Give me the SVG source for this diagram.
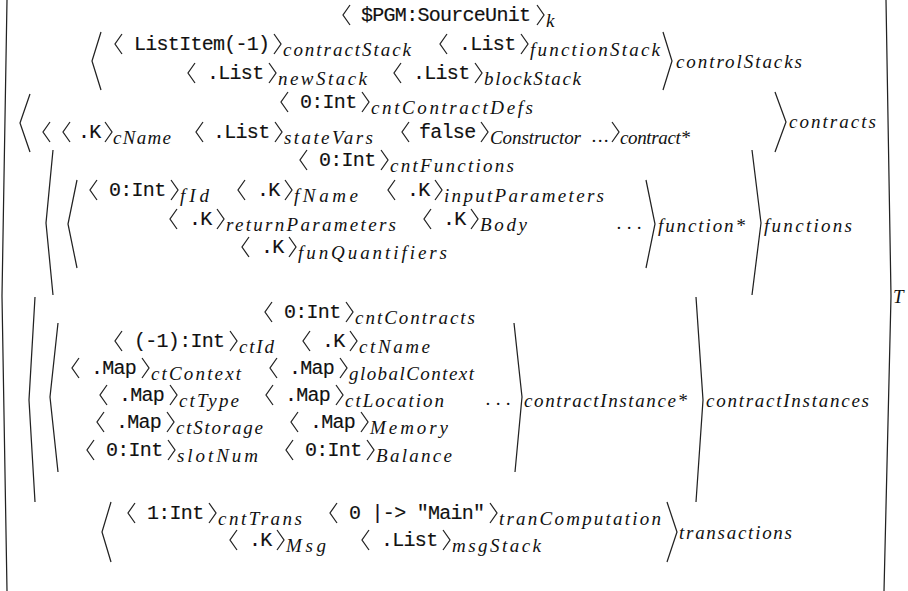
<svg xmlns="http://www.w3.org/2000/svg" xmlns:xlink="http://www.w3.org/1999/xlink" width="908" height="591" viewBox="0 0 908 591">
<style>
.m{font-family:"Liberation Mono","DejaVu Sans Mono",monospace;font-size:20px;letter-spacing:-0.72px;fill:#111;stroke:#111;stroke-width:0.15}
.s{font-family:"Liberation Serif","DejaVu Serif",serif;font-style:italic;font-size:19px;fill:#111}
.b{fill:none;stroke:#222;stroke-width:1.25;stroke-linejoin:miter}
</style>
<defs>
<path id="la" class="b" d="M7 -16 L0 -6 L7 4"/>
<path id="ra" class="b" d="M0 -16 L7 -6 L0 4"/>
</defs>
<rect width="908" height="591" fill="#fff"/>

<g id="T">
<path class="b" d="M7 0 L2 296 L7 591"/>
<path class="b" d="M886 0 L891 296 L884 591"/>
<text class="s" x="893" y="303">T</text>
</g>

<g id="k">
<use href="#la" x="343" y="21"/><text class="m" x="361" y="21">$PGM:SourceUnit</text><use href="#ra" x="537" y="21"/><text class="s" x="546" y="27">k</text>
</g>

<g id="controlStacks">
<path class="b" d="M101 32 L92 61 L101 90"/>
<g id="contractStack"><use href="#la" x="115" y="50"/><text class="m" x="134" y="50">ListItem(-1)</text><use href="#ra" x="274" y="50"/><text class="s" x="283" y="56" textLength="128" lengthAdjust="spacing">contractStack</text></g>
<g id="functionStack"><use href="#la" x="440" y="50"/><text class="m" x="459" y="50">.List</text><use href="#ra" x="521" y="50"/><text class="s" x="530" y="56" textLength="130" lengthAdjust="spacing">functionStack</text></g>
<g id="newStack"><use href="#la" x="188" y="79"/><text class="m" x="207" y="79">.List</text><use href="#ra" x="269" y="79"/><text class="s" x="278" y="85" textLength="89" lengthAdjust="spacing">newStack</text></g>
<g id="blockStack"><use href="#la" x="394" y="79"/><text class="m" x="413" y="79">.List</text><use href="#ra" x="475" y="79"/><text class="s" x="484" y="85" textLength="97" lengthAdjust="spacing">blockStack</text></g>
<path class="b" d="M663 32 L672 61 L663 90"/>
<text class="s" x="676" y="68" textLength="126" lengthAdjust="spacing">controlStacks</text>
</g>

<g id="contracts">
<path class="b" d="M30 94 L20 123 L30 152"/>
<g id="cntContractDefs"><use href="#la" x="281" y="108"/><text class="m" x="300" y="108">0:Int</text><use href="#ra" x="362" y="108"/><text class="s" x="371" y="114" textLength="162" lengthAdjust="spacing">cntContractDefs</text></g>
<g id="contract">
<use href="#la" x="43" y="138"/>
<g id="cName"><use href="#la" x="63" y="138"/><text class="m" x="78" y="138">.K</text><use href="#ra" x="105" y="138"/><text class="s" x="113" y="144" textLength="58" lengthAdjust="spacing">cName</text></g>
<g id="stateVars"><use href="#la" x="196" y="138"/><text class="m" x="213" y="138">.List</text><use href="#ra" x="275" y="138"/><text class="s" x="284" y="144" textLength="89" lengthAdjust="spacing">stateVars</text></g>
<g id="Constructor"><use href="#la" x="402" y="138"/><text class="m" x="419" y="138">false</text><use href="#ra" x="481" y="138"/><text class="s" x="490" y="144" textLength="91" lengthAdjust="spacing">Constructor</text></g>
<text class="s" x="592" y="142" textLength="17" lengthAdjust="spacing">...</text>
<use href="#ra" x="612" y="138"/><text class="s" x="620" y="144" textLength="70" lengthAdjust="spacing">contract*</text>
</g>
<path class="b" d="M775 92 L786 122 L775 152"/>
<text class="s" x="789" y="128" textLength="87" lengthAdjust="spacing">contracts</text>
</g>

<g id="functions">
<path class="b" d="M53 150 L46 223 L53 295"/>
<g id="cntFunctions"><use href="#la" x="300" y="166"/><text class="m" x="319" y="166">0:Int</text><use href="#ra" x="381" y="166"/><text class="s" x="390" y="172" textLength="124" lengthAdjust="spacing">cntFunctions</text></g>
<g id="function">
<path class="b" d="M77 180 L68 224 L77 268"/>
<g id="fId"><use href="#la" x="90" y="196"/><text class="m" x="109" y="196">0:Int</text><use href="#ra" x="171" y="196"/><text class="s" x="180" y="202" textLength="29" lengthAdjust="spacing">fId</text></g>
<g id="fName"><use href="#la" x="238" y="196"/><text class="m" x="257" y="196">.K</text><use href="#ra" x="285" y="196"/><text class="s" x="294" y="202" textLength="64" lengthAdjust="spacing">fName</text></g>
<g id="inputParameters"><use href="#la" x="388" y="196"/><text class="m" x="407" y="196">.K</text><use href="#ra" x="435" y="196"/><text class="s" x="444" y="202" textLength="160" lengthAdjust="spacing">inputParameters</text></g>
<g id="returnParameters"><use href="#la" x="170" y="225"/><text class="m" x="189" y="225">.K</text><use href="#ra" x="217" y="225"/><text class="s" x="226" y="231" textLength="170" lengthAdjust="spacing">returnParameters</text></g>
<g id="Body"><use href="#la" x="424" y="225"/><text class="m" x="443" y="225">.K</text><use href="#ra" x="471" y="225"/><text class="s" x="480" y="231" textLength="47" lengthAdjust="spacing">Body</text></g>
<g id="funQuantifiers"><use href="#la" x="242" y="253"/><text class="m" x="261" y="253">.K</text><use href="#ra" x="289" y="253"/><text class="s" x="298" y="259" textLength="149" lengthAdjust="spacing">funQuantifiers</text></g>
<text class="s" x="617" y="229" textLength="25" lengthAdjust="spacing">...</text>
<path class="b" d="M646 180 L655 224 L646 268"/>
<text class="s" x="658" y="232" textLength="87" lengthAdjust="spacing">function*</text>
</g>
<path class="b" d="M752 150 L761 223 L752 295"/>
<text class="s" x="764" y="232" textLength="88" lengthAdjust="spacing">functions</text>
</g>

<g id="contractInstances">
<path class="b" d="M35 297 L29 400 L35 502"/>
<g id="cntContracts"><use href="#la" x="265" y="318"/><text class="m" x="284" y="318">0:Int</text><use href="#ra" x="346" y="318"/><text class="s" x="355" y="324" textLength="120" lengthAdjust="spacing">cntContracts</text></g>
<g id="contractInstance">
<path class="b" d="M58 323 L50 397 L58 472"/>
<g id="ctId"><use href="#la" x="115" y="347"/><text class="m" x="134" y="347">(-1):Int</text><use href="#ra" x="230" y="347"/><text class="s" x="239" y="353" textLength="35" lengthAdjust="spacing">ctId</text></g>
<g id="ctName"><use href="#la" x="303" y="347"/><text class="m" x="322" y="347">.K</text><use href="#ra" x="350" y="347"/><text class="s" x="359" y="353" textLength="71" lengthAdjust="spacing">ctName</text></g>
<g id="ctContext"><use href="#la" x="72" y="374"/><text class="m" x="91" y="374">.Map</text><use href="#ra" x="142" y="374"/><text class="s" x="151" y="380" textLength="90" lengthAdjust="spacing">ctContext</text></g>
<g id="globalContext"><use href="#la" x="270" y="374"/><text class="m" x="289" y="374">.Map</text><use href="#ra" x="340" y="374"/><text class="s" x="349" y="380" textLength="125" lengthAdjust="spacing">globalContext</text></g>
<g id="ctType"><use href="#la" x="100" y="401"/><text class="m" x="119" y="401">.Map</text><use href="#ra" x="170" y="401"/><text class="s" x="179" y="407" textLength="60" lengthAdjust="spacing">ctType</text></g>
<g id="ctLocation"><use href="#la" x="266" y="401"/><text class="m" x="285" y="401">.Map</text><use href="#ra" x="336" y="401"/><text class="s" x="345" y="407" textLength="99" lengthAdjust="spacing">ctLocation</text></g>
<g id="ctStorage"><use href="#la" x="97" y="428"/><text class="m" x="116" y="428">.Map</text><use href="#ra" x="167" y="428"/><text class="s" x="176" y="434" textLength="87" lengthAdjust="spacing">ctStorage</text></g>
<g id="Memory"><use href="#la" x="291" y="428"/><text class="m" x="310" y="428">.Map</text><use href="#ra" x="361" y="428"/><text class="s" x="370" y="434" textLength="78" lengthAdjust="spacing">Memory</text></g>
<g id="slotNum"><use href="#la" x="87" y="456"/><text class="m" x="106" y="456">0:Int</text><use href="#ra" x="168" y="456"/><text class="s" x="177" y="462" textLength="81" lengthAdjust="spacing">slotNum</text></g>
<g id="Balance"><use href="#la" x="286" y="456"/><text class="m" x="305" y="456">0:Int</text><use href="#ra" x="367" y="456"/><text class="s" x="376" y="462" textLength="76" lengthAdjust="spacing">Balance</text></g>
<text class="s" x="486" y="405" textLength="25" lengthAdjust="spacing">...</text>
<path class="b" d="M514 323 L522 397 L515 472"/>
<text class="s" x="524" y="407" textLength="163" lengthAdjust="spacing">contractInstance*</text>
</g>
<path class="b" d="M696 297 L703 400 L696 502"/>
<text class="s" x="706" y="407" textLength="163" lengthAdjust="spacing">contractInstances</text>
</g>

<g id="transactions">
<path class="b" d="M111 502 L102 532 L111 562"/>
<g id="cntTrans"><use href="#la" x="128" y="519"/><text class="m" x="147" y="519">1:Int</text><use href="#ra" x="209" y="519"/><text class="s" x="218" y="525" textLength="84" lengthAdjust="spacing">cntTrans</text></g>
<g id="tranComputation"><use href="#la" x="330" y="519"/><text class="m" x="349" y="519">0 |-&gt; "Main"</text><use href="#ra" x="490" y="519"/><text class="s" x="499" y="525" textLength="162" lengthAdjust="spacing">tranComputation</text></g>
<g id="Msg"><use href="#la" x="230" y="546"/><text class="m" x="249" y="546">.K</text><use href="#ra" x="277" y="546"/><text class="s" x="286" y="552" textLength="40" lengthAdjust="spacing">Msg</text></g>
<g id="msgStack"><use href="#la" x="362" y="546"/><text class="m" x="381" y="546">.List</text><use href="#ra" x="443" y="546"/><text class="s" x="452" y="552" textLength="89" lengthAdjust="spacing">msgStack</text></g>
<path class="b" d="M667 502 L677 532 L667 562"/>
<text class="s" x="679" y="539" textLength="113" lengthAdjust="spacing">transactions</text>
</g>
</svg>
